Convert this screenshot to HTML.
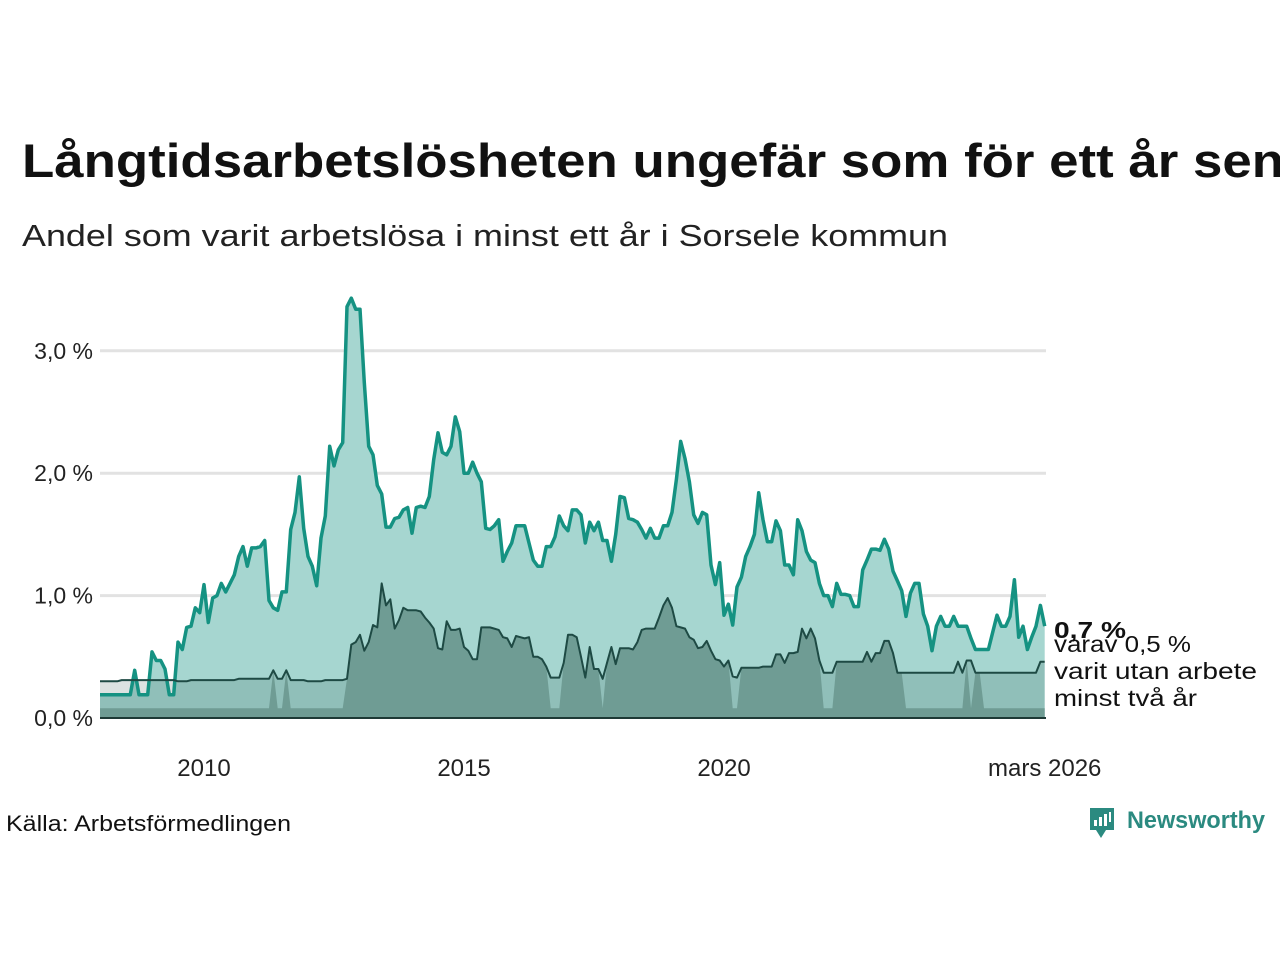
<!DOCTYPE html>
<html><head><meta charset="utf-8"><style>
html,body{margin:0;padding:0;background:#fff;width:1280px;height:960px;overflow:hidden}
svg{display:block;font-family:"Liberation Sans","DejaVu Sans",sans-serif}
</style></head><body>
<svg id="chart" width="1280" height="960" viewBox="0 0 1280 960">
<text x="22" y="177" font-size="47" font-weight="bold" fill="#111" textLength="1262" lengthAdjust="spacingAndGlyphs">Långtidsarbetslösheten ungefär som för ett år sen</text>
<text x="22" y="246" font-size="31" fill="#222" textLength="926" lengthAdjust="spacingAndGlyphs">Andel som varit arbetslösa i minst ett år i Sorsele kommun</text>
<g id="grid"></g>
<g id="marks"></g>
<g id="axes"></g>
<text x="1054" y="638" font-size="23" font-weight="bold" fill="#111" textLength="72" lengthAdjust="spacingAndGlyphs">0,7 %</text>
<text font-size="23" fill="#111"><tspan x="1054" y="652" textLength="137" lengthAdjust="spacingAndGlyphs">varav 0,5 %</tspan><tspan x="1054" y="679" textLength="203" lengthAdjust="spacingAndGlyphs">varit utan arbete</tspan><tspan x="1054" y="706" textLength="143" lengthAdjust="spacingAndGlyphs">minst två år</tspan></text>
<text x="6" y="831" font-size="22" fill="#111" textLength="285" lengthAdjust="spacingAndGlyphs">Källa: Arbetsförmedlingen</text>
<g>
<path d="M1090 808 h24 v22 h-8 l-5 8 l-5 -8 h-6 z" fill="#2b8a80"/>
<rect x="1094" y="820" width="3" height="6" fill="#fff"/><rect x="1099" y="817" width="3" height="9" fill="#fff"/><rect x="1104" y="814" width="3" height="12" fill="#fff"/><rect x="1109" y="812" width="2" height="10" fill="#fff"/>
<text x="1127" y="828" font-size="24" font-weight="bold" fill="#2b8a80" textLength="138" lengthAdjust="spacingAndGlyphs">Newsworthy</text>
</g>
</svg>
<script>
const yTicks=[0,1,2,3];
const yTickLabels=["0,0 %","1,0 %","2,0 %","3,0 %"];
const xTicks=[2010,2015,2020,2026.167];
const xTickLabels=["2010","2015","2020","mars 2026"];
const startYear=2008;
const total=[0.19,0.19,0.19,0.19,0.19,0.19,0.19,0.19,0.39,0.19,0.19,0.19,0.54,0.47,0.47,0.4,0.19,0.19,0.62,0.56,0.74,0.75,0.9,0.86,1.09,0.78,0.98,1.0,1.1,1.03,1.1,1.17,1.32,1.4,1.24,1.39,1.39,1.4,1.45,0.96,0.9,0.88,1.03,1.03,1.54,1.68,1.97,1.55,1.32,1.24,1.08,1.47,1.65,2.22,2.06,2.19,2.25,3.36,3.43,3.34,3.34,2.74,2.22,2.15,1.9,1.83,1.56,1.56,1.63,1.64,1.7,1.72,1.51,1.72,1.73,1.72,1.81,2.11,2.33,2.17,2.15,2.22,2.46,2.34,2.0,2.0,2.09,2.0,1.93,1.55,1.54,1.57,1.62,1.28,1.36,1.43,1.57,1.57,1.57,1.43,1.29,1.24,1.24,1.4,1.4,1.48,1.65,1.57,1.53,1.7,1.7,1.66,1.43,1.6,1.53,1.6,1.45,1.45,1.28,1.5,1.81,1.8,1.63,1.62,1.6,1.54,1.47,1.55,1.47,1.47,1.57,1.57,1.68,1.95,2.26,2.12,1.93,1.66,1.59,1.68,1.66,1.25,1.09,1.27,0.84,0.93,0.76,1.07,1.15,1.32,1.4,1.5,1.84,1.62,1.44,1.44,1.61,1.53,1.25,1.25,1.17,1.62,1.53,1.36,1.29,1.27,1.1,1.0,1.0,0.91,1.1,1.01,1.01,1.0,0.91,0.91,1.21,1.29,1.38,1.38,1.37,1.46,1.38,1.2,1.12,1.04,0.83,1.02,1.1,1.1,0.85,0.75,0.55,0.75,0.83,0.75,0.75,0.83,0.75,0.75,0.75,0.65,0.56,0.56,0.56,0.56,0.7,0.84,0.75,0.75,0.83,1.13,0.66,0.75,0.56,0.66,0.75,0.92,0.75];
const twoYear=[0.3,0.3,0.3,0.3,0.3,0.31,0.31,0.31,0.31,0.31,0.31,0.31,0.31,0.31,0.31,0.31,0.31,0.31,0.3,0.3,0.3,0.31,0.31,0.31,0.31,0.31,0.31,0.31,0.31,0.31,0.31,0.31,0.32,0.32,0.32,0.32,0.32,0.32,0.32,0.32,0.39,0.32,0.32,0.39,0.31,0.31,0.31,0.31,0.3,0.3,0.3,0.3,0.31,0.31,0.31,0.31,0.31,0.32,0.6,0.62,0.68,0.55,0.62,0.76,0.74,1.1,0.92,0.97,0.73,0.8,0.9,0.88,0.88,0.88,0.87,0.82,0.78,0.73,0.57,0.56,0.79,0.72,0.72,0.73,0.58,0.55,0.48,0.48,0.74,0.74,0.74,0.73,0.72,0.66,0.65,0.58,0.67,0.66,0.65,0.66,0.5,0.5,0.48,0.42,0.33,0.33,0.33,0.45,0.68,0.68,0.66,0.5,0.33,0.58,0.4,0.4,0.32,0.45,0.58,0.44,0.57,0.57,0.57,0.56,0.62,0.72,0.73,0.73,0.73,0.82,0.92,0.98,0.9,0.75,0.74,0.73,0.66,0.64,0.57,0.58,0.63,0.55,0.48,0.47,0.42,0.47,0.34,0.33,0.41,0.41,0.41,0.41,0.41,0.42,0.42,0.42,0.52,0.52,0.45,0.53,0.53,0.54,0.73,0.65,0.73,0.65,0.47,0.37,0.37,0.37,0.46,0.46,0.46,0.46,0.46,0.46,0.46,0.54,0.46,0.53,0.53,0.63,0.63,0.53,0.37,0.37,0.37,0.37,0.37,0.37,0.37,0.37,0.37,0.37,0.37,0.37,0.37,0.37,0.46,0.37,0.47,0.47,0.37,0.37,0.37,0.37,0.37,0.37,0.37,0.37,0.37,0.37,0.37,0.37,0.37,0.37,0.37,0.46,0.46];
const shown=[0,0,0,0,0,0,0,0,0,0,0,0,0,0,0,0,0,0,0,0,0,0,0,0,0,0,0,0,0,0,0,0,0,0,0,0,0,0,0,0,1,0,0,1,0,0,0,0,0,0,0,0,0,0,0,0,0,1,1,1,1,1,1,1,1,1,1,1,1,1,1,1,1,1,1,1,1,1,1,1,1,1,1,1,1,1,1,1,1,1,1,1,1,1,1,1,1,1,1,1,1,1,1,1,0,0,0,1,1,1,1,1,1,1,1,1,0,1,1,1,1,1,1,1,1,1,1,1,1,1,1,1,1,1,1,1,1,1,1,1,1,1,1,1,1,1,0,0,1,1,1,1,1,1,1,1,1,1,1,1,1,1,1,1,1,1,1,0,0,0,1,1,1,1,1,1,1,1,1,1,1,1,1,1,1,1,0,0,0,0,0,0,0,0,0,0,0,0,0,0,1,0,1,1,0,0,0,0,0,0,0,0,0,0,0,0,0,0,0,1,1];
const baseVal=0.08;
const NS="http://www.w3.org/2000/svg";
const X0=100,X1=1044.7,Y0=718,PPU=122.4;
function xYear(y){return X0+(y-startYear)*(X1-X0)/(2026.1667-startYear);}
function xIdx(i){return xYear(startYear+i/12);}
function yv(v){return Y0-v*PPU;}
function mk(tag,attrs,parent){const e=document.createElementNS(NS,tag);for(const k in attrs)e.setAttribute(k,attrs[k]);parent.appendChild(e);return e;}
const grid=document.getElementById('grid'),marks=document.getElementById('marks'),axes=document.getElementById('axes');
yTicks.forEach((t,i)=>{
 if(t>0){const l=mk('line',{x1:X0,x2:1046,y1:yv(t),y2:yv(t),stroke:'#e2e2e2','stroke-width':3},grid);
 
 }
 const tx=mk('text',{x:93,y:yv(t)+8,'text-anchor':'end','font-size':23,fill:'#222'},axes);tx.textContent=yTickLabels[i];
 
 
});
xTicks.forEach((t,i)=>{
 const tx=mk('text',{x:xYear(t),y:776,'text-anchor':'middle','font-size':24,fill:'#222'},axes);tx.textContent=xTickLabels[i];
 
 
});
function area(vals){let d='M'+xIdx(0)+' '+Y0;vals.forEach((v,i)=>d+=' L'+xIdx(i).toFixed(1)+' '+yv(v).toFixed(1));d+=' L'+xIdx(vals.length-1)+' '+Y0+' Z';return d;}
function line(vals){return vals.map((v,i)=>(i?'L':'M')+xIdx(i).toFixed(1)+' '+yv(v).toFixed(1)).join(' ');}
const a1=mk('path',{d:area(total),fill:'#a6d6d0'},marks);


const a2=mk('path',{d:area(twoYear),fill:'rgba(20,60,55,0.15)'},marks);


const fillVals=twoYear.map((v,i)=>shown[i]?v:baseVal);
const a3=mk('path',{d:area(fillVals),fill:'#6f9c94'},marks);


const l1=mk('path',{d:line(total),fill:'none',stroke:'#159282','stroke-width':3.5,'stroke-linejoin':'round'},marks);


const l2=mk('path',{d:line(twoYear),fill:'none',stroke:'#1e4a44','stroke-width':2,'stroke-linejoin':'round'},marks);


const base=mk('line',{x1:X0,x2:1046,y1:Y0,y2:Y0,stroke:'#1e3a36','stroke-width':2},marks);


</script>
</body></html>
